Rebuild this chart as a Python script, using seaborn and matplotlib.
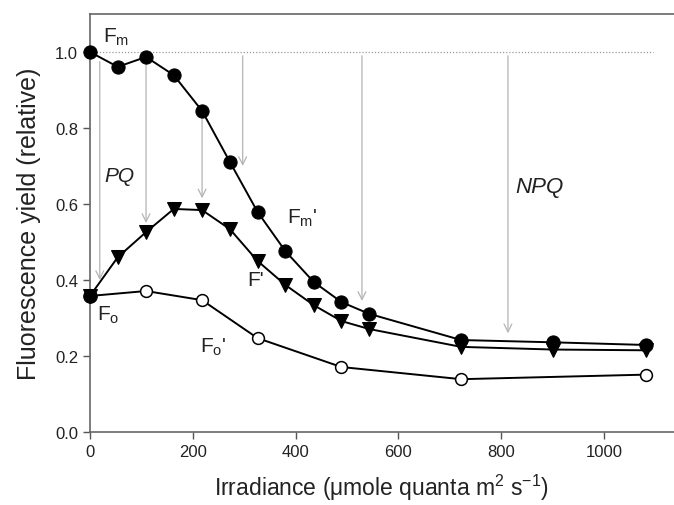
import matplotlib
matplotlib.use("Agg")
import matplotlib.pyplot as plt
import seaborn as sns
import pandas as pd

# ---- data ----
irr = [0, 54, 109, 163, 218, 272, 326, 380, 435, 489, 543, 722, 901, 1082]
fm_prime = [1.0, 0.961, 0.987, 0.939, 0.845, 0.711, 0.579, 0.476, 0.395, 0.342, 0.311, 0.242, 0.236, 0.229]
f_prime = [0.358, 0.460, 0.526, 0.587, 0.584, 0.534, 0.450, 0.387, 0.334, 0.292, 0.271, 0.224, 0.217, 0.215]
irr_fo = [0, 109, 218, 326, 489, 722, 1082]
fo_prime = [0.358, 0.371, 0.347, 0.247, 0.171, 0.139, 0.151]
# dark-adapted Fo (filled point at zero irradiance)
irr_dark = [0]
fo_dark = [0.358]

# quenching arrows (x, start, end)
arrow_x = [19, 109, 218, 297, 529, 813]
arrow_top = [0.975, 0.975, 0.83, 0.99, 0.99, 0.99]
arrow_end = [0.40, 0.55, 0.615, 0.70, 0.345, 0.26]

x_ticks = [0, 200, 400, 600, 800, 1000]
y_ticks = [0.0, 0.2, 0.4, 0.6, 0.8, 1.0]

sns.set_style("ticks")
plt.rcParams['font.family'] = ['Liberation Sans', 'DejaVu Sans']
plt.rcParams['mathtext.fontset'] = 'custom'
plt.rcParams['mathtext.rm'] = 'Liberation Sans'
plt.rcParams['mathtext.it'] = 'Liberation Sans:italic'

fig = plt.figure(figsize=(6.74, 5.06), dpi=100)
ax = fig.add_axes([90/674, 73/506, 1 - 90/674, (433-15)/506])

grey = '#b4b4b4'
# reference level
ax.axhline(1.0, xmin=0, xmax=1095/1136, color='#9a9a9a', lw=0.9, ls=(0, (1, 1.5)), zorder=1)
for xa, yt, ye in zip(arrow_x, arrow_top, arrow_end):
    ax.annotate('', xy=(xa, ye), xytext=(xa, yt),
                arrowprops=dict(arrowstyle='->', color=grey, lw=0.9,
                                mutation_scale=14, shrinkA=0, shrinkB=0), zorder=1)

d_fo = pd.DataFrame({'x': irr_fo, 'y': fo_prime})
d_dark = pd.DataFrame({'x': irr_dark, 'y': fo_dark})
d_f = pd.DataFrame({'x': irr, 'y': f_prime})
d_fm = pd.DataFrame({'x': irr, 'y': fm_prime})

sns.lineplot(data=d_fo, x='x', y='y', ax=ax, color='black', lw=1.4, marker='o',
             markersize=8.5, markerfacecolor='white', markeredgecolor='black',
             markeredgewidth=1.1, markevery=list(range(1, len(irr_fo))),
             zorder=3, clip_on=False)
sns.lineplot(data=d_f, x='x', y='y', ax=ax, color='black', lw=1.4, marker='v',
             markersize=9.5, markerfacecolor='black', markeredgecolor='black',
             zorder=4, clip_on=False)
sns.scatterplot(data=d_dark, x='x', y='y', ax=ax, color='black', marker='o',
                s=95, edgecolor='black', zorder=4, clip_on=False)
sns.lineplot(data=d_fm, x='x', y='y', ax=ax, color='black', lw=1.4, marker='o',
             markersize=9.5, markerfacecolor='black', markeredgecolor='black',
             zorder=5, clip_on=False)

ax.set_xlim(0, 1136)
ax.set_ylim(0, 1.1)
ax.set_xticks(x_ticks)
ax.set_yticks(y_ticks)
ax.set_yticklabels([f"{v:.1f}" for v in y_ticks])
ax.tick_params(axis='both', direction='out', length=5, width=1, color='#555555',
               labelsize=12, labelcolor='#222222')
for s in ['left', 'bottom', 'top']:
    ax.spines[s].set_color('#666666')
    ax.spines[s].set_linewidth(1.2)
ax.spines['right'].set_visible(False)

ax.set_xlabel(r"Irradiance ($\mathrm{\mu}$mole quanta m$^\mathrm{2}$ s$^\mathrm{-1}$)",
              fontsize=16.5, color='#222222', labelpad=9)
ax.set_ylabel("Fluorescence yield (relative)", fontsize=18, color='#222222', labelpad=10)

tc = '#222222'
ax.text(25, 1.04, r"F$_\mathrm{m}$", fontsize=15, color=tc, ha='left', va='center')
ax.text(383, 0.565, r"F$_\mathrm{m}$'", fontsize=15, color=tc, ha='left', va='center')
ax.text(305, 0.40, r"F'", fontsize=15, color=tc, ha='left', va='center')
ax.text(14, 0.31, r"F$_\mathrm{o}$", fontsize=15, color=tc, ha='left', va='center')
ax.text(214, 0.225, r"F$_\mathrm{o}$'", fontsize=15, color=tc, ha='left', va='center')
ax.text(58, 0.675, "PQ", fontsize=15, style='italic', color=tc, ha='center', va='center')
ax.text(875, 0.645, "NPQ", fontsize=16, style='italic', color=tc, ha='center', va='center')

fig.savefig("out.png", dpi=100)
